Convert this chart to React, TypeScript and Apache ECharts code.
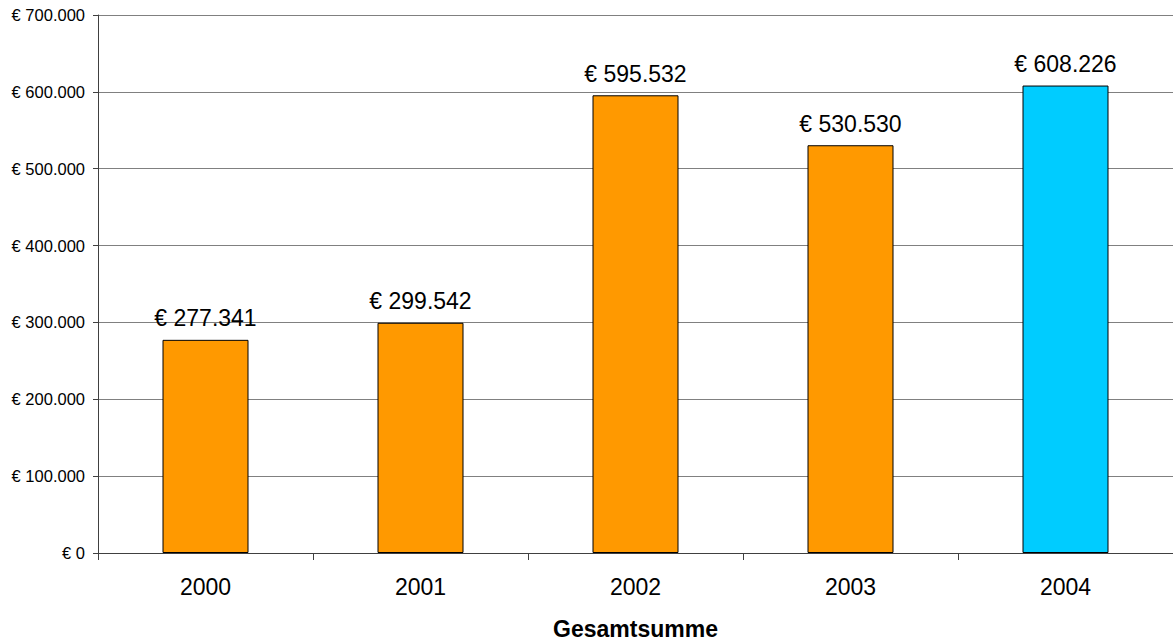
import React, { useEffect, useRef } from "react";
import * as echarts from "echarts";

const years = ["2000", "2001", "2002", "2003", "2004"];
const totals = [277341, 299542, 595532, 530530, 608226];
const barColors = ["#FF9900", "#FF9900", "#FF9900", "#FF9900", "#00CCFF"];
const axisTitle = "Gesamtsumme";

// German-style thousands grouping with a leading euro sign
const euro = (v: number): string => {
  const s = Math.round(v).toString().replace(/\B(?=(\d{3})+(?!\d))/g, ".");
  return "€ " + s;
};

export default function App() {
  const ref = useRef<HTMLDivElement>(null);

  useEffect(() => {
    document.body.style.margin = "0";
    if (!ref.current) return;
    const chart = echarts.init(ref.current, null, { renderer: "svg" });
    const font = "Arial, 'Liberation Sans', Helvetica, sans-serif";
    chart.setOption({
      animation: false,
      backgroundColor: "#ffffff",
      textStyle: { fontFamily: font },
      grid: { left: 98, right: 0, top: 15, bottom: 87, outerBoundsMode: "none", containLabel: false },
      xAxis: {
        type: "category",
        data: years,
        axisLine: { lineStyle: { color: "#404040", width: 1 } },
        axisTick: { show: true, length: 7, alignWithLabel: false, lineStyle: { color: "#404040" } },
        axisLabel: { color: "#000", fontSize: 23, margin: 22, fontFamily: font },
        name: axisTitle,
        nameLocation: "middle",
        nameGap: 64,
        nameTextStyle: { color: "#000", fontSize: 23, fontWeight: "bold", fontFamily: font },
      },
      yAxis: {
        type: "value",
        min: 0,
        max: 700000,
        interval: 100000,
        axisLine: { show: true, lineStyle: { color: "#404040", width: 1 } },
        axisTick: { show: true, length: 5, lineStyle: { color: "#404040" } },
        axisLabel: {
          color: "#000",
          fontSize: 16.5,
          margin: 13,
          fontFamily: font,
          formatter: (v: number) => euro(v),
        },
        splitLine: { show: true, lineStyle: { color: "#808080", width: 1 } },
      },
      series: [
        {
          type: "bar",
          data: totals.map((v, i) => ({ value: v, itemStyle: { color: barColors[i] } })),
          barWidth: "40%",
          itemStyle: { borderColor: "#000", borderWidth: 1 },
          label: {
            show: true,
            position: "top",
            distance: 10,
            color: "#000",
            fontSize: 23,
            fontFamily: font,
            formatter: (p: any) => euro(p.value),
          },
        },
      ],
    });
    return () => chart.dispose();
  }, []);

  return <div ref={ref} style={{ width: 1173, height: 640 }} />;
}
